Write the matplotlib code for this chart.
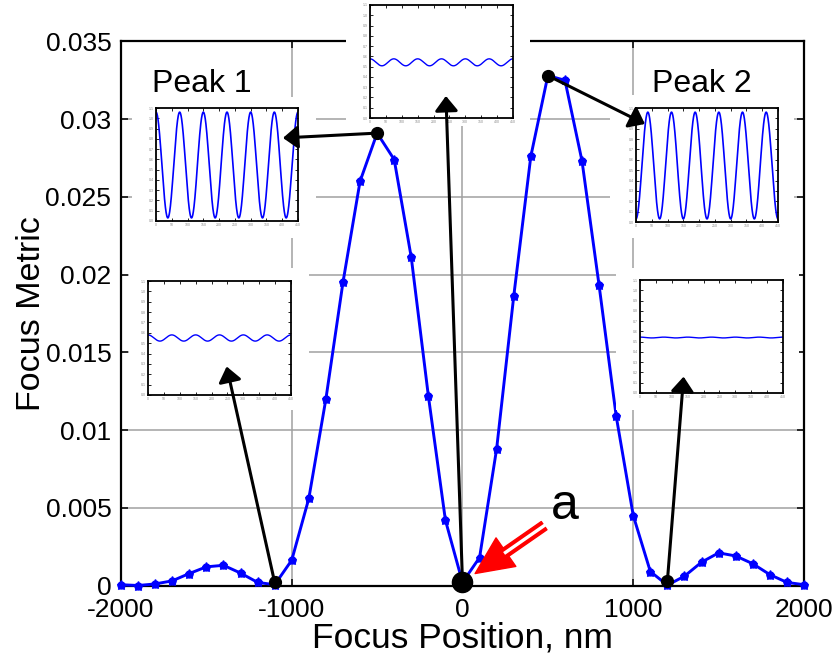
import numpy as np
import matplotlib
matplotlib.use("Agg")
import matplotlib.pyplot as plt
from matplotlib.patches import Rectangle, ConnectionPatch

plt.rcParams['font.family'] = ['Liberation Sans', 'DejaVu Sans']

# ---------------- data ----------------
focus_nm = [-2000, -1900, -1800, -1700, -1600, -1500, -1400, -1300, -1200, -1100,
            -1000, -900, -800, -700, -600, -500, -400, -300, -200, -100,
            0, 100, 200, 300, 400, 500, 600, 700, 800, 900,
            1000, 1100, 1200, 1300, 1400, 1500, 1600, 1700, 1800, 1900, 2000]
focus_metric = [0.00005, 0.0000, 0.0001, 0.0003, 0.00077, 0.0012, 0.0013, 0.0008, 0.0002, 0.00005,
                0.00163, 0.0056, 0.0120, 0.0195, 0.0260, 0.0291, 0.0274, 0.0211, 0.0122, 0.0042,
                0.0002, 0.0018, 0.0088, 0.0186, 0.0276, 0.0328, 0.0325, 0.0273, 0.0193, 0.0109,
                0.0045, 0.0009, 0.00002, 0.0006, 0.0015, 0.0021, 0.0019, 0.0014, 0.0007, 0.0002, 0.00005]

marked_x = [-1100, -500, 0, 500, 1200]
marked_y = [0.0002, 0.0291, 0.0002, 0.0328, 0.0003]
marked_size = [8.5, 8.5, 14.5, 8.5, 8.5]

x_ticks = [-2000, -1000, 0, 1000, 2000]
x_tick_labels = ['-2000', '-1000', '0', '1000', '2000']
y_ticks = [0, 0.005, 0.01, 0.015, 0.02, 0.025, 0.03, 0.035]
y_tick_labels = ['0', '0.005', '0.01', '0.015', '0.02', '0.025', '0.03', '0.035']

# inset waveforms (one per marked point): offset, amplitude, phase, cycles
inset_offset = [0.55, 0.545, 0.542, 0.545, 0.54]
inset_amp = [0.03, 0.515, 0.034, 0.515, 0.004]
inset_phase = [0.0, 0.0, 0.0, np.pi, 0.0]
inset_cycles = 6
inset_x_ticks = [0, 50, 100, 150, 200, 250, 300, 350, 400, 450]
inset_y_ticks = [0, 0.1, 0.2, 0.3, 0.4, 0.5, 0.6, 0.7, 0.8, 0.9, 1.0, 1.1]

peak_labels = ['Peak 1', 'Peak 2']
peak_label_x = [-1818, 1109]
peak_label_y = [0.03176, 0.03176]

# ---------------- layout ----------------
W, H = 837, 656
fig = plt.figure(figsize=(W / 100, H / 100), dpi=100)
ax = fig.add_axes([121 / W, 1 - 585.5 / H, 683 / W, (585.5 - 41.4) / H])
ax.set_xlim(-2000, 2000)
ax.set_ylim(0, 0.035)
ax.set_xticks(x_ticks)
ax.set_xticklabels(x_tick_labels)
ax.set_yticks(y_ticks)
ax.set_yticklabels(y_tick_labels)
ax.grid(True, color='#a0a0a0', lw=1.1, ls='-')
ax.set_axisbelow(True)
ax.tick_params(direction='in', length=5, width=1.1, top=True, right=True,
               labelsize=19)
ax.tick_params(axis='y', pad=7)
ax.tick_params(axis='x', pad=9)
for s in ax.spines.values():
    s.set_linewidth(1.6)
ax.set_xlabel('Focus Position, nm', fontsize=25.5, labelpad=0)
ax.set_ylabel('Focus Metric', fontsize=24.5, labelpad=-1)

ax.plot(focus_nm, focus_metric, color='blue', lw=2.1, marker='*', ms=6.5,
        mec='blue', mfc='blue', zorder=3, clip_on=False)
ax.plot(focus_nm, focus_metric, ls='none', marker='o', ms=5, color='blue',
        zorder=3, clip_on=False)
for mx, my, ms in zip(marked_x, marked_y, marked_size):
    ax.plot([mx], [my], 'o', color='black', ms=ms, zorder=4, clip_on=False)

for lab, lx, ly in zip(peak_labels, peak_label_x, peak_label_y):
    ax.text(lx, ly, lab, fontsize=23, ha='left', va='baseline')

# red double-line arrow and label "a"
red_tip = np.array([74.0, 0.00077])
red_tail = np.array([478.0, 0.00385])
ax.annotate('', xy=red_tip, xytext=red_tail,
            arrowprops=dict(arrowstyle='simple,head_length=1.35,head_width=1.25,tail_width=0.36',
                            color='red', mutation_scale=20, shrinkA=0, shrinkB=0),
            zorder=5)
g0 = red_tip + 0.42 * (red_tail - red_tip)
g1 = red_tip + 1.05 * (red_tail - red_tip)
ax.plot([g0[0], g1[0]], [g0[1], g1[1]], color='white', lw=2.4, zorder=6,
        solid_capstyle='butt')
ax.text(601, 0.00425, 'a', fontsize=36, ha='center', va='baseline')

# insets
boxes_px = [(148, 281, 143, 114), (156, 108, 142, 113), (370, 5, 143, 113),
            (636, 108, 142, 114), (640, 280, 143, 113)]
cover_px = [(129, 268, 309, 410), (132, 97, 316, 238), (346, 0, 530, 126),
            (610, 95, 794, 238), (616, 268, 799, 410)]
tips = [(0.55, 0.25), (0.894, 0.735), (0.531, 0.195), (0.063, 0.86), (0.305, 0.145)]

xs = np.linspace(0, 450, 800)
for i in range(5):
    x0, y0, x1, y1 = cover_px[i]
    fig.add_artist(Rectangle((x0 / W, 1 - y1 / H), (x1 - x0) / W, (y1 - y0) / H,
                             transform=fig.transFigure, facecolor='white',
                             edgecolor='none', zorder=1))
    bx, by, bw, bh = boxes_px[i]
    iax = fig.add_axes([bx / W, 1 - (by + bh) / H, bw / W, bh / H])
    iax.set_zorder(2)
    wave = inset_offset[i] + inset_amp[i] * np.cos(2 * np.pi * inset_cycles * xs / 450 + inset_phase[i])
    iax.plot(xs, wave, color='blue', lw=1.2 if inset_amp[i] > 0.1 else 1.0)
    iax.set_xlim(0, 450)
    iax.set_ylim(0, 1.1)
    iax.set_xticks(inset_x_ticks)
    iax.set_yticks(inset_y_ticks)
    iax.tick_params(direction='in', length=2, width=0.6, top=True, right=True,
                    labelsize=2.5, labelcolor='#888888', pad=1.5)
    for s in iax.spines.values():
        s.set_linewidth(1.3)
    con = ConnectionPatch(xyA=(marked_x[i], marked_y[i]), coordsA=ax.transData,
                          xyB=tips[i], coordsB=iax.transAxes,
                          arrowstyle='-|>,head_length=0.45,head_width=0.35',
                          mutation_scale=20, lw=2.2, color='black',
                          shrinkA=0, shrinkB=0, zorder=5)
    fig.add_artist(con)

fig.savefig('out.png', dpi=100)
